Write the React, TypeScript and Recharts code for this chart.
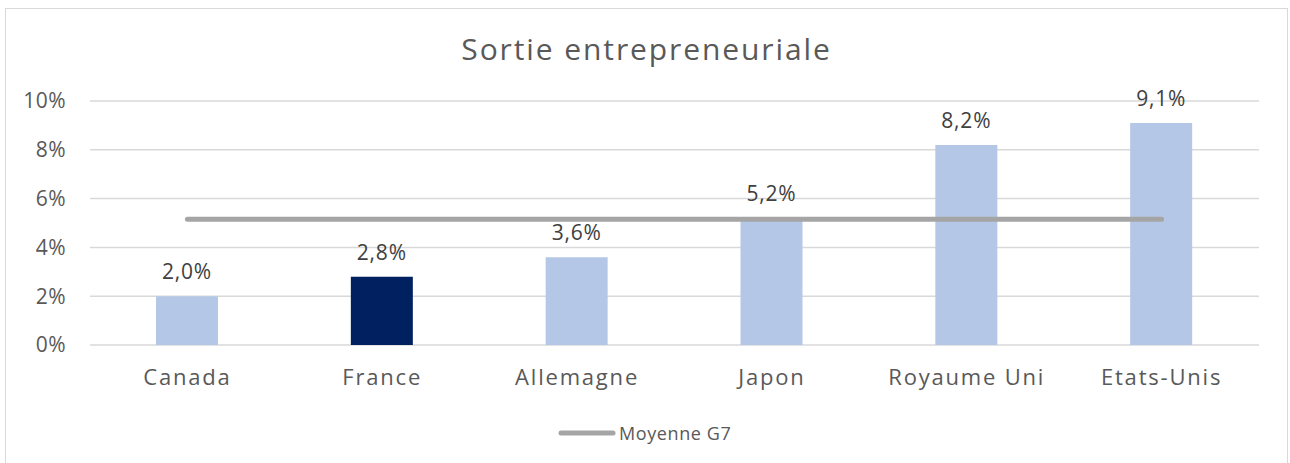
import React from 'react';
import { ComposedChart, Bar, Line, XAxis, YAxis, CartesianGrid, LabelList, Cell } from 'recharts';

const countries = ['Canada', 'France', 'Allemagne', 'Japon', 'Royaume Uni', 'Etats-Unis'];
const sortieValues = [2.0, 2.8, 3.6, 5.2, 8.2, 9.1];
const moyenneG7 = [5.15, 5.15, 5.15, 5.15, 5.15, 5.15];
const yTicks = [0, 2, 4, 6, 8, 10];
const highlight = 'France';

const data = countries.map((c, i) => ({ name: c, value: sortieValues[i], avg: moyenneG7[i] }));

const FONT = '"Open Sans", sans-serif';
const TXT = '#595959';

const fmtLabel = (v: number) => v.toFixed(1).replace('.', ',') + '%';

export default function App() {
  return (
    <div
      style={{
        position: 'absolute',
        left: 5,
        top: 8,
        width: 1281,
        height: 470,
        border: '1px solid #d9d9d9',
        background: '#fff',
        fontFamily: FONT,
      }}
    >
      <div
        style={{
          position: 'absolute',
          left: 0,
          width: 1281,
          top: 20,
          textAlign: 'center',
          fontSize: 30,
          letterSpacing: 1.9,
          color: TXT,
          lineHeight: '40px',
        }}
      >
        Sortie entrepreneuriale
      </div>
      <ComposedChart
        width={1281}
        height={470}
        data={data}
        margin={{ top: 92, right: 28, bottom: 104, left: 0 }}
      >
        <CartesianGrid vertical={false} stroke="#d9d9d9" strokeWidth={1.5} />
        <XAxis
          dataKey="name"
          height={30}
          axisLine={false}
          tickLine={false}
          tickSize={0}
          tickMargin={24}
          interval={0}
          tick={{ fill: TXT, fontSize: 22, letterSpacing: 1.8, fontFamily: FONT }}
        />
        <YAxis
          width={84}
          domain={[0, 10]}
          ticks={yTicks}
          axisLine={false}
          tickLine={false}
          tickSize={0}
          tickMargin={24}
          tickFormatter={(v: number) => `${v}%`}
          tick={{ fill: TXT, fontSize: 21, letterSpacing: 0.5, fontFamily: FONT }}
        />
        <Bar dataKey="value" barSize={62} isAnimationActive={false}>
          {data.map((d) => (
            <Cell key={d.name} fill={d.name === highlight ? '#002060' : '#b4c7e7'} />
          ))}
          <LabelList
            dataKey="value"
            position="top"
            offset={17}
            formatter={(v: number) => fmtLabel(v)}
            style={{ fill: '#404040', fontSize: 21, letterSpacing: 0.8, fontFamily: FONT }}
          />
        </Bar>
        <Line
          dataKey="avg"
          stroke="#a5a5a5"
          strokeWidth={5}
          strokeLinecap="round"
          dot={false}
          activeDot={false}
          isAnimationActive={false}
        />
      </ComposedChart>
      <div
        style={{
          position: 'absolute',
          top: 412,
          left: 552,
          display: 'flex',
          alignItems: 'center',
          height: 24,
        }}
      >
        <svg width={58} height={10} style={{ display: 'block' }}>
          <line x1={3} y1={5} x2={55} y2={5} stroke="#a5a5a5" strokeWidth={5} strokeLinecap="round" />
        </svg>
        <span style={{ fontSize: 18, color: TXT, marginLeft: 3, letterSpacing: 0.6 }}>Moyenne G7</span>
      </div>
    </div>
  );
}
